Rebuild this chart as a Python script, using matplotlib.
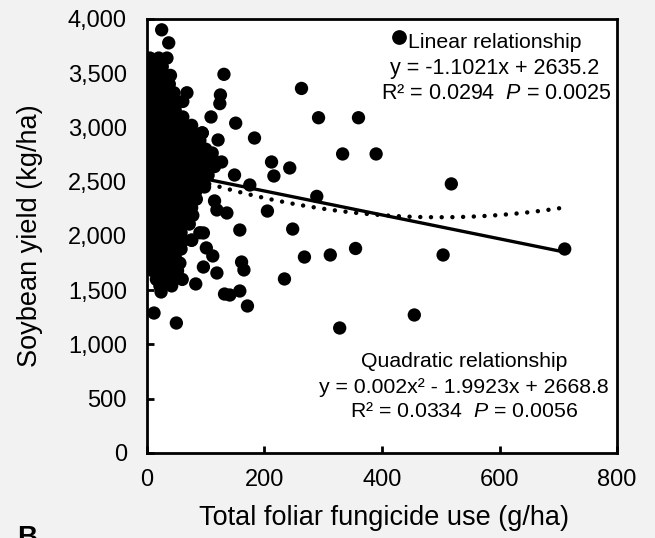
import numpy as np
import matplotlib
matplotlib.use("Agg")
import matplotlib.pyplot as plt
from matplotlib.ticker import StrMethodFormatter

plt.rcParams['font.family'] = ['Liberation Sans', 'DejaVu Sans']
plt.rcParams['mathtext.fontset'] = 'custom'
plt.rcParams['mathtext.rm'] = 'Liberation Sans'
plt.rcParams['mathtext.it'] = 'Liberation Sans:italic'

# Data

# dense cloud at low fungicide use: one yield level per row, with the x values on it
cloud_yield = [3640, 3560, 3480, 3400, 3320, 3240, 3160, 3097, 3020, 2950,
               2880, 2800, 2720, 2640, 2560, 2490, 2420, 2340, 2260, 2190,
               2110, 2030, 1960, 1880, 1810, 1750, 1680, 1600, 1540]
cloud_fungicide = [
    [5, 20],
    [2, 14, 26],
    [6, 18, 32, 40],
    [2, 14, 26, 38],
    [6, 20, 34, 46, 68],
    [2, 16, 30, 44, 61],
    [6, 20, 34, 48],
    [2, 16, 30, 44, 61],
    [6, 20, 34, 48, 62, 76],
    [2, 16, 30, 44, 58, 76, 94],
    [6, 20, 34, 48, 62, 76, 90],
    [2, 16, 30, 44, 58, 72, 86, 100],
    [6, 20, 34, 48, 62, 76, 90, 111],
    [2, 16, 30, 44, 58, 72, 86, 100, 115],
    [6, 20, 34, 48, 62, 76, 90, 104],
    [2, 16, 30, 44, 58, 72, 86, 96],
    [6, 20, 34, 48, 62, 76, 84],
    [2, 16, 30, 44, 58, 72, 84],
    [6, 20, 34, 48, 62, 76],
    [2, 16, 30, 44, 58, 78],
    [6, 20, 34, 48, 62, 72],
    [2, 16, 30, 44, 58, 90],
    [6, 20, 34, 48, 62, 76],
    [2, 16, 30, 44, 58],
    [6, 20, 34, 48],
    [2, 16, 30, 44, 56],
    [10, 24, 38, 52],
    [16, 30, 44, 60],
    [22, 42],
]

# scattered points
other_fungicide = [25, 37, 34, 131, 125, 124, 109, 151, 183, 121, 263, 292,
                   360, 333, 390, 212, 243, 216, 149, 175, 518, 289, 115, 119,
                   136, 205, 158, 248, 268, 312, 355, 504, 711, 455, 328, 234,
                   161, 165, 119, 96, 132, 141, 158, 171, 83, 50, 12, 24, 76,
                   101, 112, 96, 127, 111, 98, 94]
other_yield = [3900, 3780, 3640, 3490, 3300, 3220, 3097, 3040, 2903, 2885,
               3360, 3090, 3090, 2756, 2756, 2682, 2627, 2553, 2562, 2470,
               2480, 2365, 2323, 2240, 2212, 2230, 2055, 2064, 1806, 1825,
               1885, 1825, 1880, 1272, 1152, 1604, 1760, 1687, 1659, 1714,
               1465, 1456, 1493, 1355, 1558, 1198, 1290, 1484, 1963, 1890,
               1816, 2028, 2682, 2765, 2452, 2950]

# trendline coefficients
lin_slope, lin_icpt = -1.1021, 2635.2
quad_a, quad_b, quad_c = 0.002, -1.9923, 2668.8

x_ticks = [0, 200, 400, 600, 800]
y_ticks = [0, 500, 1000, 1500, 2000, 2500, 3000, 3500, 4000]

# Points
xs, ys = [], []
for yv, row in zip(cloud_yield, cloud_fungicide):
    xs += row
    ys += [yv] * len(row)
xs += other_fungicide
ys += other_yield
xs = np.array(xs, dtype=float)
ys = np.array(ys, dtype=float)

# Figure

fig = plt.figure(figsize=(6.55, 5.38), dpi=100, facecolor='#f2f2f2')
ax = fig.add_axes([0.2244, 0.158, 0.7176, 0.8067])
ax.set_facecolor('white')

xfit = np.linspace(xs.min(), xs.max(), 200)
ax.plot(xfit, lin_slope * xfit + lin_icpt, color='black', lw=2.4,
        solid_capstyle='butt', zorder=2)
ax.plot(xfit, quad_a * xfit ** 2 + quad_b * xfit + quad_c, color='black',
        lw=3.2, linestyle=(0, (0.01, 2.4)), dash_capstyle='round', zorder=2)
ax.scatter(xs, ys, s=92, color='black', edgecolors='none', zorder=3)

ax.set_xlim(0, 800)
ax.set_ylim(0, 4000)
ax.set_xticks(x_ticks)
ax.set_yticks(y_ticks)
ax.yaxis.set_major_formatter(StrMethodFormatter('{x:,.0f}'))
ax.tick_params(direction='in', length=5, width=2, labelsize=17)
ax.tick_params(axis='x', pad=11.5)
ax.tick_params(axis='y', pad=14.5)
for s in ax.spines.values():
    s.set_linewidth(2)

# Annotations
ax.plot([0.536], [0.9585], 'o', color='black', ms=9.6, transform=ax.transAxes,
        clip_on=False)
ax.text(0.556, 0.945, 'Linear relationship', transform=ax.transAxes,
        ha='left', va='center', fontsize=15.3)
ax.text(0.740, 0.887, 'y = -1.1021x + 2635.2', transform=ax.transAxes,
        ha='center', va='center', fontsize=15.5)
ax.text(0.743, 0.829, 'R² = 0.0294  $\\mathit{P}$ = 0.0025',
        transform=ax.transAxes, ha='center', va='center', fontsize=15.5)

ax.text(0.674, 0.210, 'Quadratic relationship', transform=ax.transAxes,
        ha='center', va='center', fontsize=15.3)
ax.text(0.674, 0.152, 'y = 0.002x² - 1.9923x + 2668.8', transform=ax.transAxes,
        ha='center', va='center', fontsize=15.3)
ax.text(0.674, 0.096, 'R² = 0.0334  $\\mathit{P}$ = 0.0056',
        transform=ax.transAxes, ha='center', va='center', fontsize=15.3)

# Axis titles
fig.text(0.046, 0.561, 'Soybean yield (kg/ha)', rotation=90, ha='center',
         va='center', fontsize=19.5)
fig.text(0.586, 0.037, 'Total foliar fungicide use (g/ha)', ha='center',
         va='center', fontsize=19.5)
fig.text(0.026, 0.024, 'B', ha='left', va='top', fontsize=20,
         fontweight='bold')

fig.savefig('out.png', dpi=100, facecolor=fig.get_facecolor())
